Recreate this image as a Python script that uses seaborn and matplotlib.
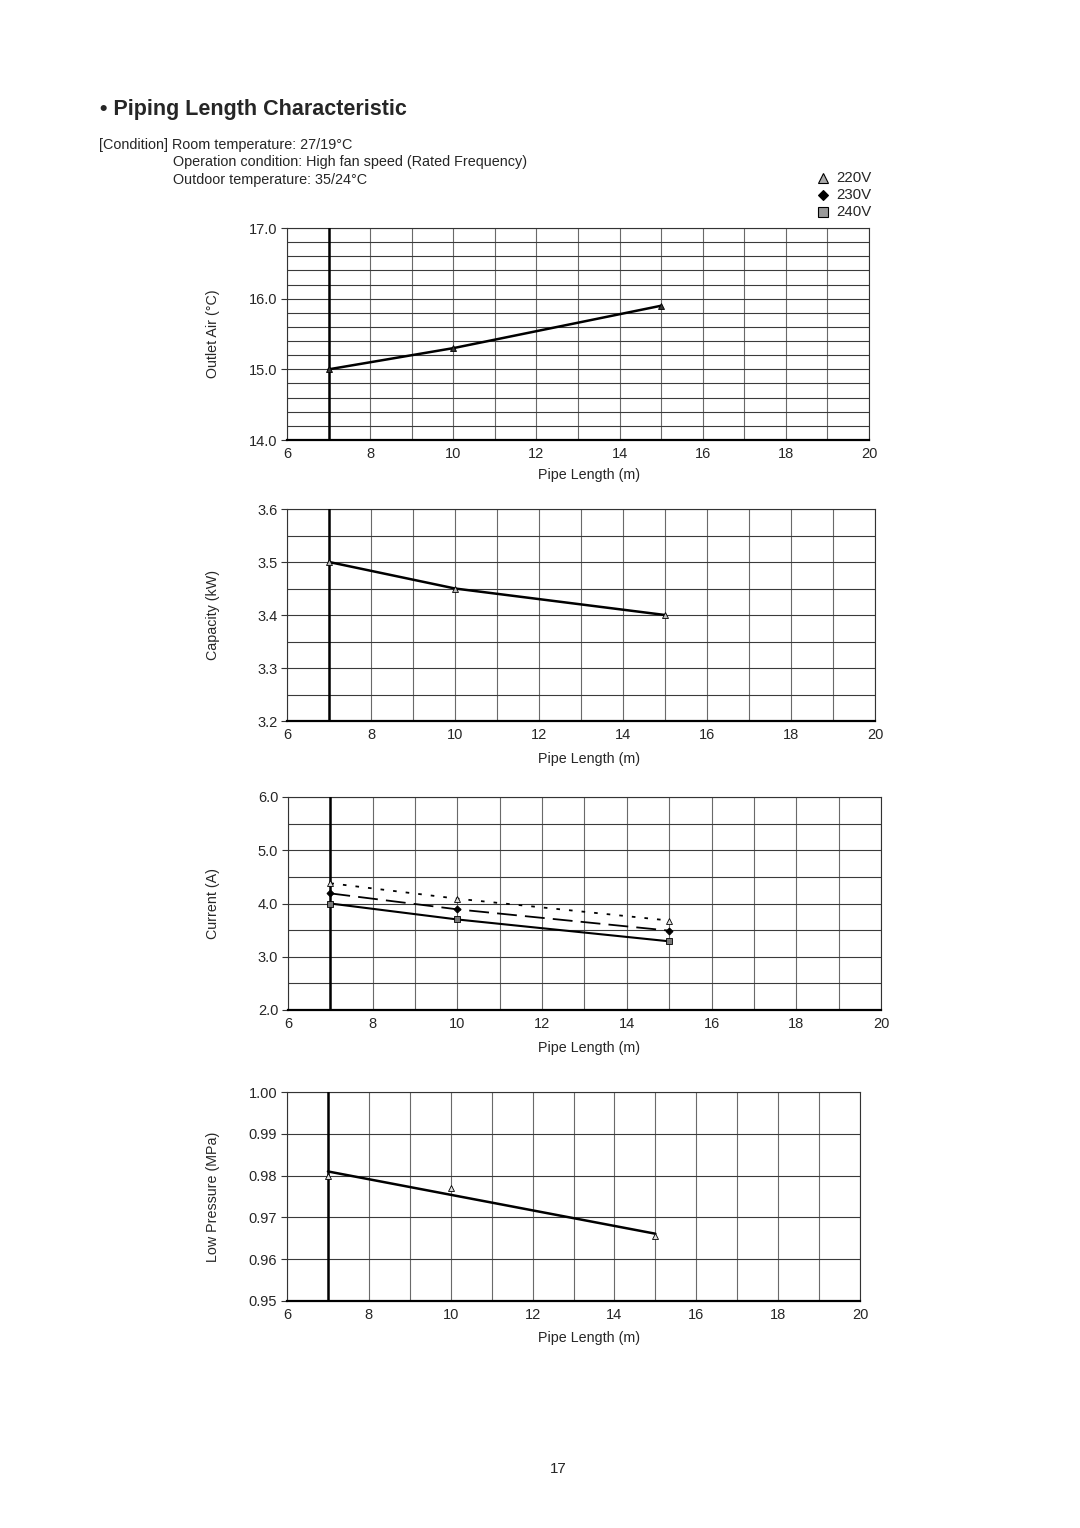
import matplotlib
matplotlib.use("Agg")
import matplotlib.pyplot as plt
import seaborn as sns
import numpy as np

# data
pipe_length = [7, 10, 15]

outlet_air_220 = [15.0, 15.3, 15.9]
capacity_220 = [3.50, 3.45, 3.40]

current_220 = [4.38, 4.09, 3.68]
current_230 = [4.19, 3.89, 3.49]
current_240 = [4.00, 3.70, 3.29]

pressure_220 = [0.980, 0.977, 0.9655]

voltages = ["220V", "230V", "240V"]

W, H = 1080, 1528
TICK_FS = 10.5
LAB_FS = 10.3

sns.set_style("white")
plt.rcParams["font.family"] = ["Liberation Sans", "DejaVu Sans"]

fig = plt.figure(figsize=(W / 100, H / 100), dpi=100)
fig.patch.set_facecolor("white")


def make_axes(left, right, top, bottom):
    return fig.add_axes([left / W, 1 - bottom / H, (right - left) / W, (bottom - top) / H])


def style_axes(ax, box, ylim, yticks, ystep, ylabel, yfmt, xlab_y):
    left, right, top, bottom = box
    ax.set_xlim(6, 20)
    ax.set_ylim(*ylim)
    ax.set_xticks(range(6, 21, 2))
    ax.set_xticks(range(6, 21, 1), minor=True)
    ax.set_yticks(yticks)
    ax.set_yticks(np.arange(ylim[0], ylim[1] + ystep / 2, ystep), minor=True)
    ax.set_yticklabels([yfmt.format(v) for v in yticks])
    ax.grid(which="both", axis="x", color="#6a6a6a", lw=0.8)
    ax.grid(which="both", axis="y", color="#3a3a3a", lw=0.8)
    ax.set_axisbelow(True)
    for s in ["top", "right", "left"]:
        ax.spines[s].set_color("#333333")
        ax.spines[s].set_linewidth(0.8)
    ax.spines["bottom"].set_color("black")
    ax.spines["bottom"].set_linewidth(1.6)
    ax.tick_params(axis="y", which="major", length=4, width=0.8, color="#333333",
                   labelsize=TICK_FS, pad=3, left=True)
    ax.tick_params(axis="y", which="minor", length=0)
    ax.tick_params(axis="x", which="both", length=0, labelsize=TICK_FS, pad=5)
    ax.axvline(7, color="black", lw=1.8, zorder=3)
    aw, ah = right - left, bottom - top
    ax.set_ylabel(ylabel, fontsize=LAB_FS)
    ax.yaxis.set_label_coords((220 - left) / aw, 0.5)
    ax.set_xlabel("Pipe Length (m)", fontsize=LAB_FS)
    ax.xaxis.set_label_coords((589 - left) / aw, -(xlab_y - bottom) / ah)
    ax.xaxis.label.set_va("center")


tri_dark = dict(marker="^", markersize=4.5, markerfacecolor="#333333",
                markeredgecolor="black", markeredgewidth=0.6)
tri = dict(marker="^", markersize=4.5, markerfacecolor="#bbbbbb",
           markeredgecolor="black", markeredgewidth=0.6)

# 1: outlet air
box1 = (287, 869, 228, 440)
ax1 = make_axes(*box1)
sns.lineplot(x=pipe_length, y=outlet_air_220, ax=ax1, color="black", lw=1.8, zorder=4, **tri_dark)
style_axes(ax1, box1, (14.0, 17.0), [14.0, 15.0, 16.0, 17.0], 0.2,
           "Outlet Air (°C)", "{:.1f}", 475)

# 2: capacity
box2 = (287, 875, 509, 721)
ax2 = make_axes(*box2)
sns.lineplot(x=pipe_length, y=capacity_220, ax=ax2, color="black", lw=1.8, zorder=4, **tri)
style_axes(ax2, box2, (3.2, 3.6), [3.2, 3.3, 3.4, 3.5, 3.6], 0.05,
           "Capacity (kW)", "{:.1f}", 759)

# 3: current
box3 = (288, 881, 797, 1010)
ax3 = make_axes(*box3)
sns.lineplot(x=pipe_length, y=current_220, ax=ax3, color="black", lw=1.3,
             linestyle=(0, (2, 5)), zorder=4,
             marker="^", markersize=4.5, markerfacecolor="#dddddd",
             markeredgecolor="black", markeredgewidth=0.6)
sns.lineplot(x=pipe_length, y=current_230, ax=ax3, color="black", lw=1.3,
             linestyle=(0, (11, 4.5)), zorder=4,
             marker="D", markersize=3.5, markerfacecolor="black", markeredgecolor="black")
sns.lineplot(x=pipe_length, y=current_240, ax=ax3, color="black", lw=1.5, zorder=4,
             marker="s", markersize=3.8, markerfacecolor="#777777",
             markeredgecolor="black", markeredgewidth=0.6)
style_axes(ax3, box3, (2.0, 6.0), [2.0, 3.0, 4.0, 5.0, 6.0], 0.5,
           "Current (A)", "{:.1f}", 1048)

# 4: low pressure (markers + linear trend line)
box4 = (287, 860, 1092, 1301)
ax4 = make_axes(*box4)
sns.regplot(x=np.array(pipe_length, dtype=float), y=np.array(pressure_220), ax=ax4,
            ci=None, scatter=False, truncate=True,
            line_kws=dict(color="black", lw=1.8, zorder=4))
sns.lineplot(x=pipe_length, y=pressure_220, ax=ax4, lw=0, zorder=5,
             marker="^", markersize=4.5, markerfacecolor="#dddddd",
             markeredgecolor="black", markeredgewidth=0.6)
style_axes(ax4, box4, (0.95, 1.00), [0.95, 0.96, 0.97, 0.98, 0.99, 1.00], 0.01,
           "Low Pressure (MPa)", "{:.2f}", 1338)

# header text
fig.text(100 / W, 1 - 110 / H, "• Piping Length Characteristic", fontsize=15.5,
         fontweight="bold", va="center", ha="left")
fig.text(99 / W, 1 - 145 / H, "[Condition] Room temperature: 27/19°C", fontsize=10.4,
         va="center", ha="left")
fig.text(173 / W, 1 - 162 / H, "Operation condition: High fan speed (Rated Frequency)",
         fontsize=10.4, va="center", ha="left")
fig.text(173 / W, 1 - 180 / H, "Outdoor temperature: 35/24°C", fontsize=10.4,
         va="center", ha="left")

# legend
leg_markers = [
    dict(marker="^", markerfacecolor="#aaaaaa", markeredgecolor="black", markersize=7),
    dict(marker="D", markerfacecolor="black", markeredgecolor="black", markersize=5.5),
    dict(marker="s", markerfacecolor="#999999", markeredgecolor="black", markersize=6.5),
]
leg_ax = fig.add_axes([0, 0, 1, 1], facecolor="none")
leg_ax.set_xlim(0, W)
leg_ax.set_ylim(H, 0)
leg_ax.axis("off")
for i, (lab, mk) in enumerate(zip(voltages, leg_markers)):
    yy = 178 + i * 17
    leg_ax.plot([823], [yy], linestyle="none", markeredgewidth=0.8, **mk)
    leg_ax.text(836, yy, lab, fontsize=10.8, va="center", ha="left")

fig.text(558 / W, 1 - 1469 / H, "17", fontsize=10.8, va="center", ha="center")

fig.savefig("out.png", dpi=100, facecolor="white")
